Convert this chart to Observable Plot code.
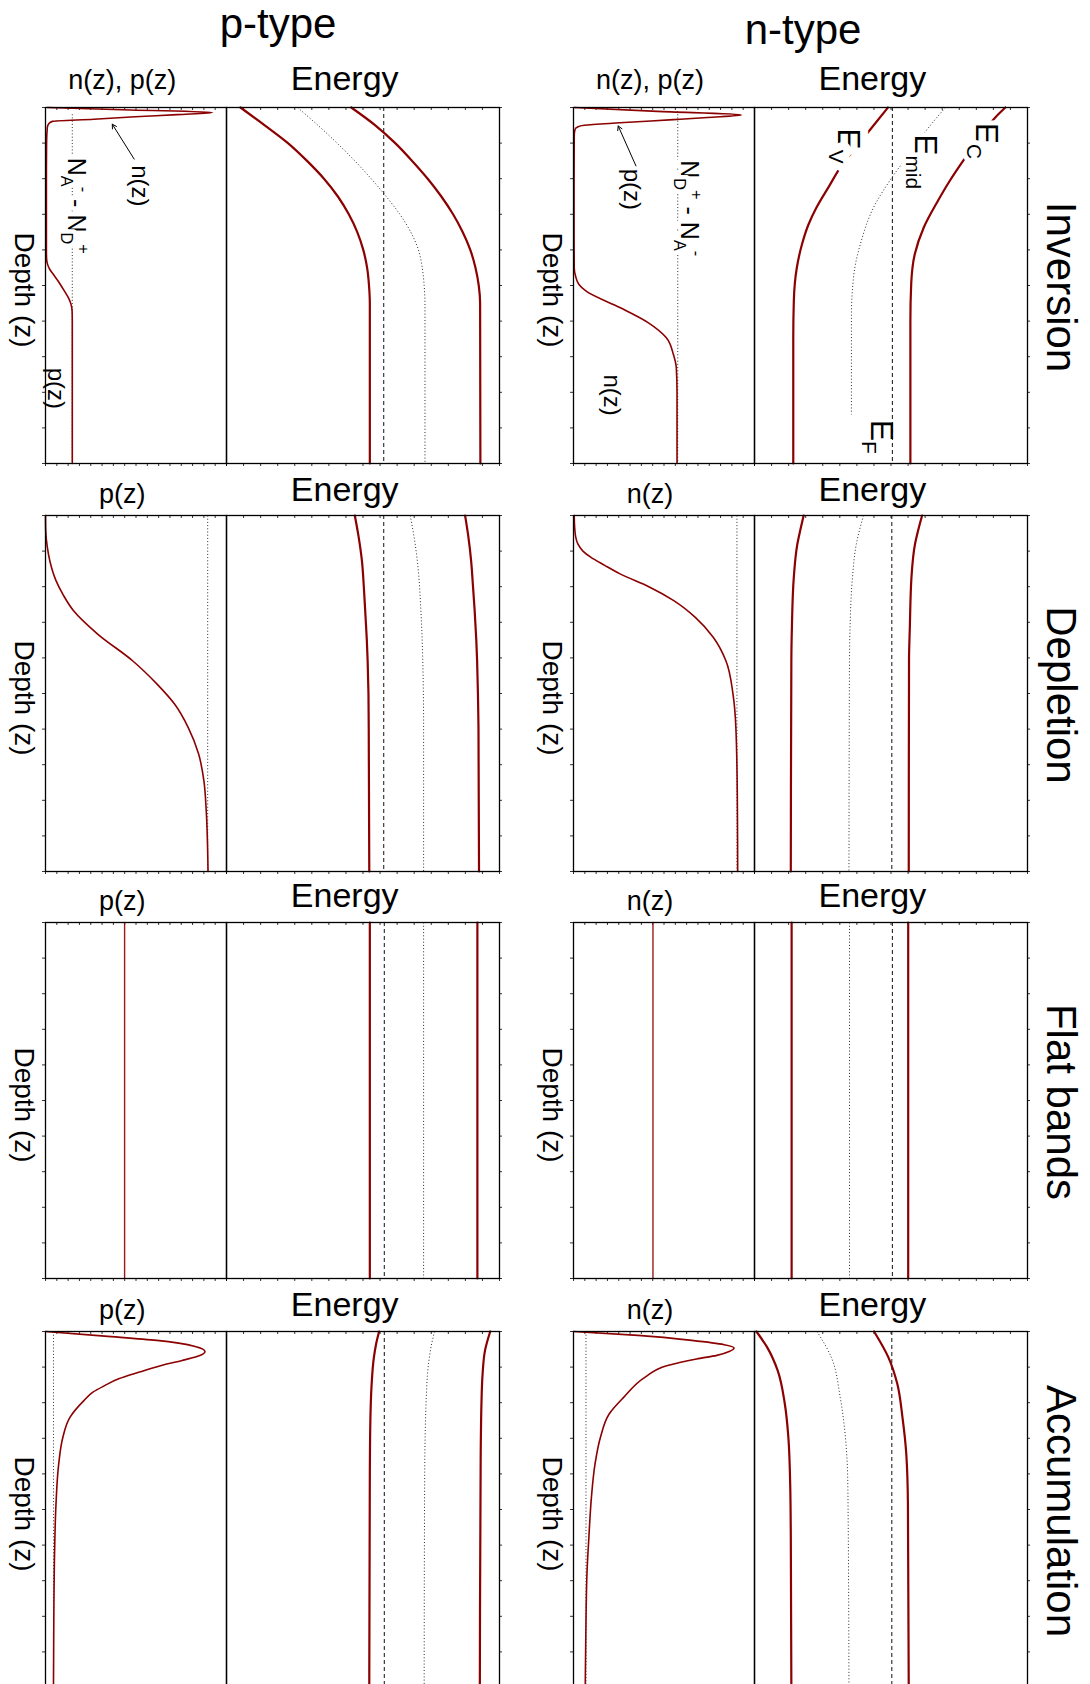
<!DOCTYPE html>
<html>
<head>
<meta charset="utf-8">
<script src="https://cdn.jsdelivr.net/npm/d3@7"></script>
<script src="https://cdn.jsdelivr.net/npm/@observablehq/plot@0.6"></script>
<style>
html, body { margin: 0; padding: 0; background: #fff; overflow: hidden; }
#root { position: relative; width: 1090px; height: 1684px; overflow: hidden; background: #fff;
  font-family: "Liberation Sans", Arial, Helvetica, sans-serif; color: #000; }
.lbl { position: absolute; white-space: nowrap; line-height: 1; }
</style>
</head>
<body>
<div id="root"></div>
<script>
// ---------------- DATA ----------------
// Depth z: 0 = surface (top of panel), 1 = bottom. Values: fraction of panel width.
const columnTitles = ["p-type", "n-type"];
const rowStates = ["Inversion", "Depletion", "Flat bands", "Accumulation"];
const carrierTitlesP = ["n(z), p(z)", "p(z)", "p(z)", "p(z)"];
const carrierTitlesN = ["n(z), p(z)", "n(z)", "n(z)", "n(z)"];
const energyTitle = "Energy";
const depthTitle = "Depth (z)";

// ---- p-type, Inversion ----
const pInvCarrier = [[0,0.01],[0.007,0.47],[0.014,0.923],[0.02,0.727],[0.026,0.496],[0.033,0.267],[0.039,0.038],[0.045,0.019],[0.056,0.01],[0.1,0.006],[0.2,0.005],[0.3,0.005],[0.4,0.005],[0.425,0.006],[0.44,0.011],[0.455,0.024],[0.47,0.045],[0.49,0.073],[0.515,0.104],[0.535,0.127],[0.553,0.141],[0.572,0.147],[0.6,0.148],[1,0.148]];
const pInvDoping = [[0.019,0.148],[1,0.148]];
const pInvEv = [[0,0.051],[0.05,0.140],[0.1,0.225],[0.15,0.295],[0.2,0.357],[0.25,0.408],[0.3,0.448],[0.35,0.479],[0.4,0.501],[0.45,0.515],[0.5,0.522],[0.55,0.525],[1,0.525]];
const pInvEmid = [[0,0.260],[0.05,0.335],[0.1,0.405],[0.15,0.470],[0.2,0.530],[0.25,0.585],[0.3,0.635],[0.35,0.675],[0.4,0.703],[0.45,0.717],[0.5,0.724],[0.55,0.727],[1,0.727]];
const pInvEc = [[0,0.457],[0.05,0.545],[0.1,0.618],[0.15,0.680],[0.2,0.737],[0.25,0.787],[0.3,0.830],[0.35,0.865],[0.4,0.893],[0.45,0.912],[0.5,0.924],[0.55,0.929],[1,0.930]];
const pInvEf = 0.576;
const pInvLabelText = ["n(z)", "N_{A}^{-} - N_{D}^{+}", "p(z)"];
const pInvLabelX = [0.519, 0.168, 0.058];
const pInvLabelZ = [0.220, 0.276, 0.789];
const pInvArrow = [[0.490, 0.145, 0.369, 0.047]]; // x1, z1, x2, z2

// ---- p-type, Depletion ----
const pDepCarrier = [[0,0],[0.04,0.001],[0.089,0.01],[0.13,0.025],[0.183,0.058],[0.225,0.1],[0.267,0.154],[0.333,0.288],[0.408,0.481],[0.473,0.615],[0.529,0.712],[0.595,0.788],[0.67,0.846],[0.745,0.875],[0.829,0.888],[1,0.898]];
const pDepDoping = [[0,0.896],[1,0.896]];
const pDepEv = [[0,0.470],[0.06,0.484],[0.127,0.496],[0.2,0.503],[0.267,0.508],[0.35,0.514],[0.408,0.517],[0.5,0.520],[0.595,0.521],[1,0.523]];
const pDepEmid = [[0,0.673],[0.06,0.687],[0.127,0.699],[0.267,0.712],[0.408,0.719],[0.595,0.722],[1,0.722]];
const pDepEc = [[0,0.874],[0.06,0.886],[0.127,0.896],[0.2,0.903],[0.267,0.909],[0.35,0.915],[0.408,0.918],[0.5,0.921],[0.595,0.923],[1,0.925]];
const pDepEf = 0.576;

// ---- p-type, Flat bands ----
const pFlatCarrier = [[0,0.437],[1,0.437]];
const pFlatEv = [[0,0.525],[1,0.525]];
const pFlatEmid = [[0,0.722],[1,0.722]];
const pFlatEc = [[0,0.919],[1,0.919]];
const pFlatEf = 0.578;

// ---- p-type, Accumulation ----
const pAccCarrier = [[0,0],[0.013,0.327],[0.025,0.615],[0.042,0.827],[0.056,0.881],[0.067,0.856],[0.082,0.75],[0.096,0.635],[0.114,0.519],[0.133,0.404],[0.152,0.327],[0.171,0.26],[0.194,0.212],[0.241,0.135],[0.297,0.096],[0.372,0.073],[0.485,0.058],[0.625,0.05],[0.8,0.046],[1,0.044]];
const pAccDoping = [[0,0.044],[1,0.044]];
const pAccEv = [[0,0.559],[0.035,0.548],[0.072,0.540],[0.157,0.531],[0.25,0.527],[0.4,0.525],[1,0.523]];
const pAccEmid = [[0,0.762],[0.04,0.75],[0.091,0.740],[0.2,0.731],[0.4,0.726],[1,0.724]];
const pAccEc = [[0,0.966],[0.053,0.947],[0.12,0.938],[0.2,0.934],[0.363,0.931],[1,0.928]];
const pAccEf = 0.578;

// ---- n-type, Inversion ----
const nInvCarrier = [[0,0.004],[0.011,0.463],[0.021,0.927],[0.028,0.74],[0.034,0.552],[0.043,0.256],[0.05,0.06],[0.054,0.025],[0.062,0.008],[0.08,0.004],[0.2,0.003],[0.35,0.003],[0.45,0.004],[0.475,0.012],[0.497,0.03],[0.516,0.07],[0.562,0.256],[0.605,0.414],[0.647,0.513],[0.694,0.552],[0.731,0.568],[0.8,0.572],[1,0.572]];
const nInvDoping = [[0.01,0.576],[1,0.576]];
const nInvEv = [[0,0.489],[0.056,0.430],[0.1,0.384],[0.164,0.318],[0.22,0.274],[0.281,0.227],[0.33,0.197],[0.384,0.174],[0.45,0.155],[0.544,0.144],[0.65,0.142],[1,0.142]];
const nInvEmid = [[0,0.699],[0.061,0.633],[0.13,0.567],[0.206,0.495],[0.281,0.436],[0.375,0.391],[0.469,0.364],[0.59,0.355],[0.862,0.355]];
const nInvEc = [[0,0.919],[0.028,0.882],[0.09,0.82],[0.15,0.764],[0.21,0.712],[0.262,0.672],[0.337,0.620],[0.412,0.587],[0.496,0.574],[0.6,0.571],[1,0.571]];
const nInvEf = 0.505;
const nInvLabelText = ["p(z)", "N_{D}^{+} - N_{A}^{-}", "n(z)"];
const nInvLabelX = [0.320, 0.636, 0.212];
const nInvLabelZ = [0.230, 0.283, 0.808];
const nInvArrow = [[0.345, 0.164, 0.247, 0.052]];
const nInvBandLabelText = ["E_{C}", "E_{mid}", "E_{V}", "E_{F}"];
const nInvBandLabelX = [0.849, 0.626, 0.345, 0.465];
const nInvBandLabelZ = [0.094, 0.152, 0.108, 0.925];

// ---- n-type, Depletion ----
const nDepCarrier = [[0,0.004],[0.03,0.006],[0.06,0.012],[0.08,0.024],[0.1,0.052],[0.117,0.095],[0.14,0.172],[0.164,0.257],[0.2,0.416],[0.239,0.554],[0.286,0.673],[0.342,0.772],[0.408,0.842],[0.501,0.881],[0.595,0.897],[0.783,0.905],[1,0.907]];
const nDepDoping = [[0,0.903],[1,0.903]];
const nDepEv = [[0,0.180],[0.04,0.168],[0.08,0.157],[0.173,0.144],[0.314,0.137],[0.408,0.135],[1,0.133]];
const nDepEmid = [[0,0.399],[0.04,0.385],[0.08,0.373],[0.173,0.359],[0.314,0.350],[0.408,0.348],[1,0.346]];
const nDepEc = [[0,0.614],[0.04,0.600],[0.08,0.588],[0.173,0.575],[0.314,0.569],[0.408,0.566],[1,0.565]];
const nDepEf = 0.503;

// ---- n-type, Flat bands ----
const nFlatCarrier = [[0,0.439],[1,0.439]];
const nFlatEv = [[0,0.136],[1,0.136]];
const nFlatEmid = [[0,0.348],[1,0.348]];
const nFlatEc = [[0,0.563],[1,0.563]];
const nFlatEf = 0.505;

// ---- n-type, Accumulation ----
const nAccCarrier = [[0,0],[0.011,0.356],[0.025,0.653],[0.037,0.832],[0.046,0.887],[0.056,0.86],[0.067,0.792],[0.077,0.68],[0.096,0.515],[0.128,0.396],[0.185,0.277],[0.231,0.198],[0.297,0.149],[0.372,0.119],[0.466,0.099],[0.578,0.085],[0.672,0.075],[0.813,0.069],[1,0.065]];
const nAccDoping = [[0,0.069],[1,0.069]];
const nAccEv = [[0,0.007],[0.044,0.046],[0.11,0.085],[0.203,0.111],[0.297,0.124],[0.438,0.131],[0.578,0.133],[1,0.135]];
const nAccEmid = [[0,0.229],[0.072,0.281],[0.185,0.314],[0.297,0.333],[0.438,0.342],[1,0.346]];
const nAccEc = [[0,0.438],[0.072,0.490],[0.147,0.523],[0.241,0.542],[0.344,0.556],[0.485,0.562],[1,0.565]];
const nAccEf = 0.503;

// Tick positions (unlabelled minor ticks)
const xTicks = d3.range(0, 1.0001, 1 / 16);
const yTicks = d3.range(0, 1.0001, 1 / 10);

// ---------------- LAYOUT / STYLE ----------------
const FONT = '"Liberation Sans", Arial, Helvetica, sans-serif';
const RED = "#8b0000";
const DOT = "#2a2a2a";
const root = document.getElementById("root");
const colLeft = [45.2, 572.9];
const carrierW = 181;
const energyW = 273;
const rowTop = [106.5, 515.3, 922, 1331];
const panelH = 356;
const M = 8;

function lab(text, xs, zs) {
  return text.map((t, i) => ({t, x: xs[i], z: zs[i]}));
}

const cells = [
  [ // p-type
    {carrier: pInvCarrier, doping: pInvDoping, ev: pInvEv, emid: pInvEmid, ec: pInvEc, ef: pInvEf,
     cLab: lab(pInvLabelText, pInvLabelX, pInvLabelZ), cLabSize: [24, 25, 24], cLabHalo: [0, 9, 0], arrow: pInvArrow},
    {carrier: pDepCarrier, doping: pDepDoping, ev: pDepEv, emid: pDepEmid, ec: pDepEc, ef: pDepEf},
    {carrier: pFlatCarrier, ev: pFlatEv, emid: pFlatEmid, ec: pFlatEc, ef: pFlatEf, thin: true},
    {carrier: pAccCarrier, doping: pAccDoping, ev: pAccEv, emid: pAccEmid, ec: pAccEc, ef: pAccEf}
  ],
  [ // n-type
    {carrier: nInvCarrier, doping: nInvDoping, ev: nInvEv, emid: nInvEmid, ec: nInvEc, ef: nInvEf,
     cLab: lab(nInvLabelText, nInvLabelX, nInvLabelZ), cLabSize: [24, 25, 24], cLabHalo: [0, 9, 0], arrow: nInvArrow,
     eLab: lab(nInvBandLabelText, nInvBandLabelX, nInvBandLabelZ), eLabSize: [32, 32, 32, 32], eLabHalo: [10, 9, 16, 0]},
    {carrier: nDepCarrier, doping: nDepDoping, ev: nDepEv, emid: nDepEmid, ec: nDepEc, ef: nDepEf},
    {carrier: nFlatCarrier, ev: nFlatEv, emid: nFlatEmid, ec: nFlatEc, ef: nFlatEf, thin: true},
    {carrier: nAccCarrier, doping: nAccDoping, ev: nAccEv, emid: nAccEmid, ec: nAccEc, ef: nAccEf}
  ]
];

// ---------------- HELPERS ----------------
function tickMarks(w, h, side) {
  const s = {stroke: "#000", strokeWidth: 0.8};
  return [
    Plot.tickX(xTicks, {x: d => d, ...s, insetBottom: h - 3}),
    Plot.tickX(xTicks, {x: d => d, ...s, insetTop: h, insetBottom: -3}),
    side === "left"
      ? Plot.tickY(yTicks, {y: d => d, ...s, insetLeft: -3, insetRight: w})
      : Plot.tickY(yTicks, {y: d => d, ...s, insetLeft: w, insetRight: -3})
  ];
}
function profile(data, stroke, width, dash) {
  return Plot.line(data, {x: d => d[1], y: d => d[0], curve: "monotone-y", stroke, strokeWidth: width,
    strokeDasharray: dash, strokeLinejoin: "round", strokeLinecap: dash ? "butt" : "round"});
}
function textMarks(labels, sizes, halos) {
  if (!labels) return [];
  return labels.map((L, i) => Plot.text([L], {
    x: d => d.x, y: d => d.z, text: d => d.t, rotate: 90, fontSize: sizes[i],
    fill: "#000", stroke: halos[i] ? "#fff" : "none", strokeWidth: halos[i] || 0,
    paintOrder: "stroke", strokeLinejoin: "round", textAnchor: "middle", lineAnchor: "middle",
    fontFamily: FONT
  }));
}
function richText(svg) {
  const NS = "http://www.w3.org/2000/svg";
  svg.querySelectorAll("text").forEach(t => {
    const s = t.textContent;
    if (!/[_^]\{/.test(s)) return;
    const fs = parseFloat(getComputedStyle(t).fontSize) || 16;
    const re = /([_^])\{([^}]*)\}|([^_^]+)/g;
    let m, cur = 0;
    while (t.firstChild) t.removeChild(t.firstChild);
    while ((m = re.exec(s))) {
      const sp = document.createElementNS(NS, "tspan");
      let target, size;
      if (m[3] !== undefined) { target = 0; size = fs; sp.textContent = m[3]; }
      else { size = 0.65 * fs; target = m[1] === "_" ? 0.28 * fs : -0.42 * fs; sp.textContent = m[2]; }
      if (target !== cur) sp.setAttribute("dy", (target - cur).toFixed(2));
      sp.setAttribute("font-size", size.toFixed(1));
      t.appendChild(sp);
      cur = target;
    }
  });
}
function panel(left, top, w, h, marks) {
  const svg = Plot.plot({
    width: w + 2 * M, height: h + 2 * M, margin: M,
    x: {domain: [0, 1], axis: null},
    y: {domain: [0, 1], reverse: true, axis: null},
    style: {background: "transparent", overflow: "visible", fontFamily: FONT},
    marks: marks.filter(Boolean)
  });
  svg.style.position = "absolute";
  svg.style.left = (left - M) + "px";
  svg.style.top = (top - M) + "px";
  root.appendChild(svg);
  richText(svg);
}
function htmlLabel(text, cx, cy, fs, rot) {
  const d = document.createElement("div");
  d.className = "lbl";
  d.textContent = text;
  d.style.fontSize = fs + "px";
  d.style.left = cx + "px";
  d.style.top = cy + "px";
  d.style.transform = "translate(-50%,-50%)" + (rot ? ` rotate(${rot}deg)` : "");
  root.appendChild(d);
}

// ---------------- DRAW ----------------
cells.forEach((col, c) => {
  col.forEach((cell, r) => {
    const cl = colLeft[c], el = colLeft[c] + carrierW, top = rowTop[r];
    // carrier density panel
    panel(cl, top, carrierW, panelH, [
      ...tickMarks(carrierW, panelH, "left"),
      cell.doping ? profile(cell.doping, DOT, 1, "1,2.2") : null,
      profile(cell.carrier, cell.thin ? "#9a1a1a" : RED, cell.thin ? 1.4 : 1.6),
      ...textMarks(cell.cLab, cell.cLabSize, cell.cLabHalo),
      cell.arrow ? Plot.arrow(cell.arrow, {x1: d => d[0], y1: d => d[1], x2: d => d[2], y2: d => d[3],
        stroke: "#000", strokeWidth: 1, headLength: 7}) : null,
      Plot.frame({stroke: "#000", strokeWidth: 1.3})
    ]);
    // energy band panel
    panel(el, top, energyW, panelH, [
      ...tickMarks(energyW, panelH, "right"),
      Plot.ruleX([cell.ef], {x: d => d, stroke: "#111", strokeWidth: 1, strokeDasharray: "4,3"}),
      profile(cell.emid, DOT, 1, "1,2.2"),
      profile(cell.ev, RED, 2.2),
      profile(cell.ec, RED, 2.2),
      ...textMarks(cell.eLab, cell.eLabSize, cell.eLabHalo),
      Plot.frame({stroke: "#000", strokeWidth: 1.3})
    ]);
    // titles
    const cTitles = c === 0 ? carrierTitlesP : carrierTitlesN;
    const cBase = top - (r === 0 ? 17 : 12);
    htmlLabel(cTitles[r], cl + carrierW / 2 - 13.5, cBase - 0.3465 * 27, 27);
    const eBase = top - (r === 0 ? 17 : 15);
    htmlLabel(energyTitle, el + energyW / 2 - 18, eBase - 0.3465 * 34, 34);
    htmlLabel(depthTitle, cl - 21.3, top + panelH / 2 + 5, 28, 90);
  });
});
// column titles
const colTitleX = [278, 803], colTitleBase = [39, 45];
columnTitles.forEach((t, c) => htmlLabel(t, colTitleX[c], colTitleBase[c] - 0.3465 * 42, 42));
// row state labels
rowStates.forEach((t, r) => htmlLabel(t, 1060.6, rowTop[r] + panelH / 2 + 2, 42, 90));
</script>
</body>
</html>
